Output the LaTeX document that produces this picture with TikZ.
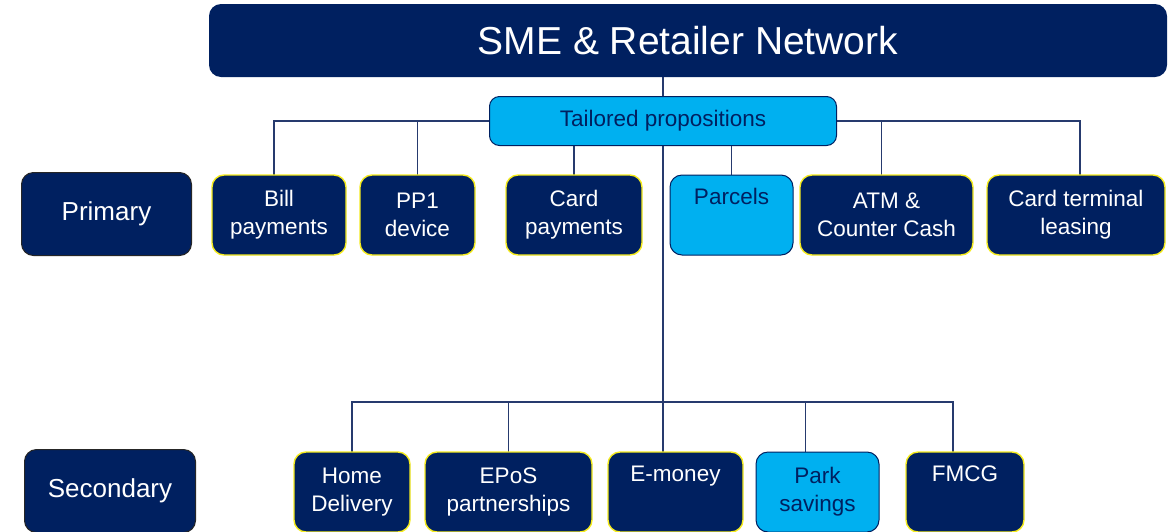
\documentclass[tikz,border=0pt]{standalone}
\usepackage{fontspec}
\setmainfont{Liberation Sans}
\usepackage{tikz}
\usetikzlibrary{positioning,backgrounds}

\definecolor{pnavy}{RGB}{0,32,96}
\definecolor{pblue}{RGB}{0,176,240}
\definecolor{pline}{RGB}{38,58,110}
\definecolor{pyellow}{RGB}{245,235,30}

\begin{document}
\begin{tikzpicture}[x=1pt,y=-1pt,
    conn/.style={draw=pline,line width=1.6pt},
    darkbox/.style={rectangle,rounded corners=12pt,fill=pnavy,draw=pyellow,line width=1.4pt,
      text=white,align=center,inner sep=0pt,outer sep=0pt,minimum height=80pt,
      font=\fontsize{22.5}{28}\selectfont},
    lightbox/.style={darkbox,fill=pblue,draw=pnavy,line width=1pt,text=pnavy},
    rowname/.style={darkbox,draw=black!85,line width=1pt,minimum height=83pt,
      font=\fontsize{26}{30}\selectfont}]
  \clip (0,0) rectangle (1176,531);

  % top of the tree
  \node[rectangle,rounded corners=12pt,fill=pnavy,text=white,minimum width=958pt,
    minimum height=73pt,font=\fontsize{39}{44}\selectfont] (SME) at (688,40.5) {SME \& Retailer Network};
  \node[lightbox,rounded corners=10pt,minimum width=347pt,minimum height=49pt] (TP) at (663,121) {Tailored propositions};

  % primary row
  \node[rowname,minimum width=170pt] (Prim) at (106.5,214) {Primary};
  \node[darkbox,minimum width=134pt] (Bill) at (279,215) {Bill\\payments};
  \node[darkbox,minimum width=115pt,right=14pt of Bill] (PP) {PP1\\device};
  \node[darkbox,minimum width=136pt,right=31pt of PP] (CardPay) {Card\\payments};
  \node[lightbox,minimum width=123pt,right=28pt of CardPay] (Parcels) {Parcels\\\strut};
  \node[darkbox,minimum width=173pt,right=7pt of Parcels] (ATM) {ATM \&\\Counter Cash};
  \node[darkbox,minimum width=178pt,right=14pt of ATM] (Lease) {Card terminal\\leasing};

  % secondary row
  \node[rowname,minimum width=171pt] (Sec) at (110,491) {Secondary};
  \node[darkbox,minimum width=116pt] (Home) at (352,492) {Home\\Delivery};
  \node[darkbox,minimum width=167pt,right=15pt of Home] (EPoS) {EPoS\\partnerships};
  \node[darkbox,minimum width=135pt,right=16pt of EPoS] (EMoney) {E-money\\\strut};
  \node[lightbox,minimum width=123pt,right=13pt of EMoney] (Park) {Park\\savings};
  \node[darkbox,minimum width=118pt,right=27pt of Park] (FMCG) {FMCG\\\strut};

  \coordinate (Hub) at (663,402);

  \begin{scope}[on background layer]
    \draw[conn] (TP |- SME.south) -- (Hub);
    \draw[conn] (TP.west) -| ([xshift=-5pt]Bill.north);
    \draw[conn] (TP.west) -| (PP.north);
    \draw[conn] (CardPay.north |- TP.south) -- (CardPay.north);
    \draw[conn] (Parcels.north |- TP.south) -- (Parcels.north);
    \draw[conn] (TP.east) -| ([xshift=-5pt]ATM.north);
    \draw[conn] (TP.east) -| ([xshift=4pt]Lease.north);
    \draw[conn] (Hub) -| (Home.north);
    \draw[conn] (Hub) -| (EPoS.north);
    \draw[conn] (Hub) -- (Hub |- EMoney.north);
    \draw[conn] (Hub) -| ([xshift=-12pt]Park.north);
    \draw[conn] (Hub) -| ([xshift=-12pt]FMCG.north);
  \end{scope}
\end{tikzpicture}
\end{document}
